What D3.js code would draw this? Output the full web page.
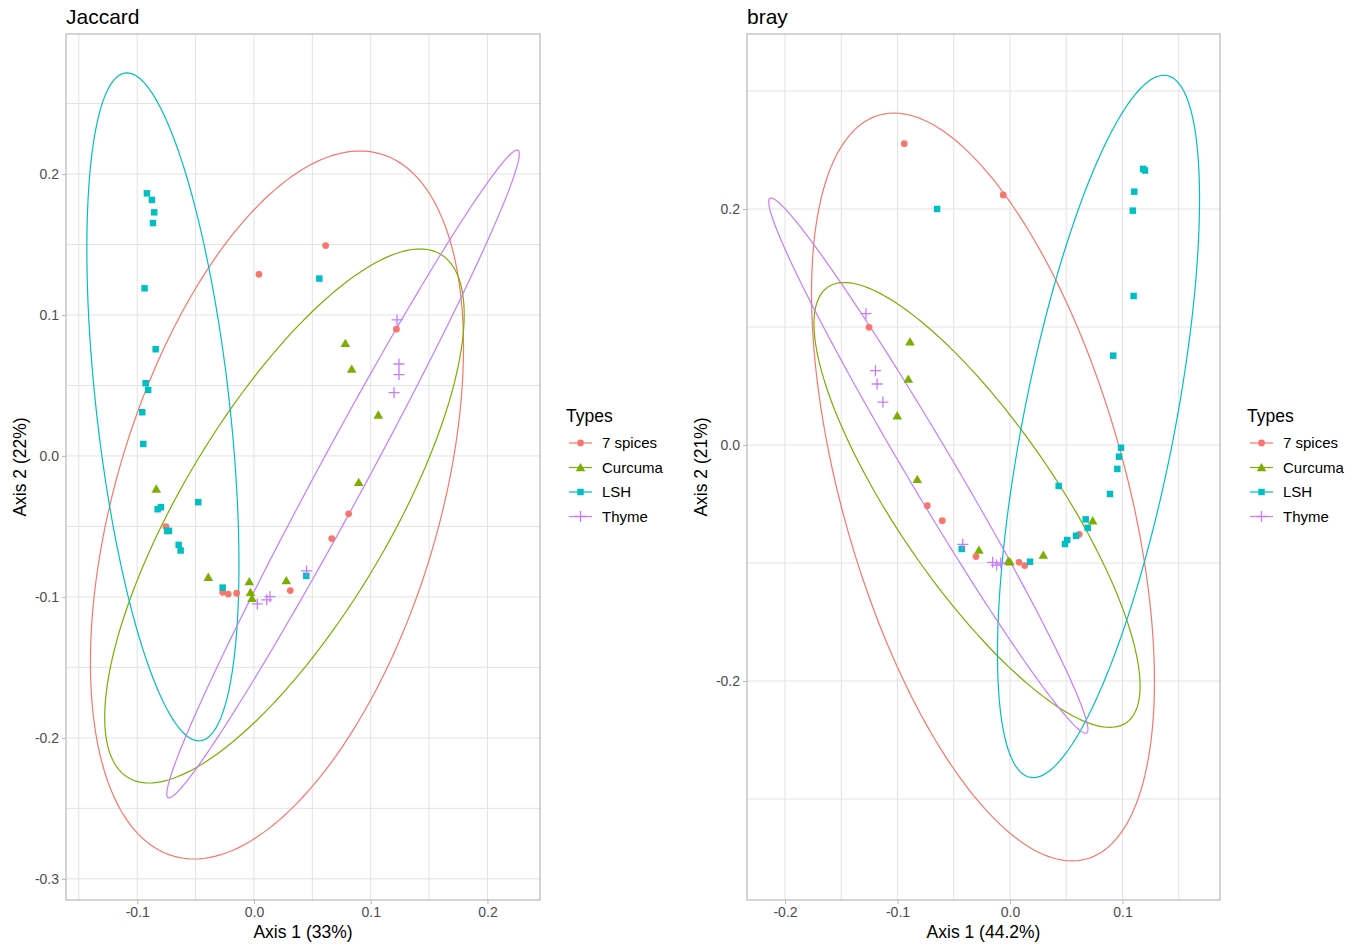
<!DOCTYPE html>
<html>
<head>
<meta charset="utf-8">
<script src="https://cdn.jsdelivr.net/npm/d3@7"></script>
<style>
  body { margin: 0; background: #fff; }
  text { font-family: "Liberation Sans", Arial, sans-serif; }
</style>
</head>
<body>
<svg width="1363" height="945"></svg>
<script>
var types = ["7 spices", "Curcuma", "LSH", "Thyme"];
var colors = ["#F8766D", "#7CAE00", "#00BFC4", "#C77CFF"];

// Jaccard PCoA scores
var jacSpices = [[0.0043, 0.1288], [0.0614, 0.1492], [0.122, 0.0899], [0.0811, -0.0411], [0.0666, -0.0586],
  [0.0311, -0.0955], [-0.022, -0.098], [-0.0268, -0.0967], [-0.0754, -0.0501], [-0.0148, -0.0974]];
var jacCurcuma = [[0.0783, 0.0799], [0.0837, 0.0617], [0.1065, 0.0291], [0.0897, -0.0187], [0.0277, -0.0884],
  [-0.004, -0.0891], [-0.003, -0.0967], [-0.0017, -0.101], [-0.0837, -0.0234], [-0.0391, -0.086]];
var jacLSH = [[-0.0917, 0.1863], [-0.0874, 0.1816], [-0.0854, 0.1728], [-0.0865, 0.1652], [-0.0937, 0.1189],
  [0.056, 0.1258], [-0.0842, 0.0757], [-0.0928, 0.0516], [-0.0906, 0.0468], [-0.0957, 0.031], [-0.0948, 0.0085],
  [-0.0477, -0.0328], [-0.0825, -0.0378], [-0.0797, -0.0364], [-0.0743, -0.0532], [-0.0728, -0.0532],
  [-0.0645, -0.0631], [-0.0628, -0.0671], [-0.0268, -0.0934], [0.0448, -0.0851]];
var jacThyme = [[0.1225, 0.0965], [0.1242, 0.0652], [0.1242, 0.0577], [0.12, 0.0449], [0.0451, -0.0816],
  [0.0029, -0.105], [0.0109, -0.1021], [0.0137, -0.0998]];

// Bray-Curtis PCoA scores
var braySpices = [[-0.094, 0.2553], [-0.006, 0.2119], [-0.1253, 0.0997], [-0.0735, -0.0514], [-0.0602, -0.0641],
  [-0.0302, -0.0946], [0.008, -0.0994], [0.0131, -0.1022], [0.0616, -0.0757]];
var brayCurcuma = [[-0.0889, 0.0876], [-0.0904, 0.0559], [-0.1002, 0.0249], [-0.0824, -0.0291], [-0.0276, -0.089],
  [-0.0015, -0.0983], [0, -0.0989], [0.0296, -0.0932], [0.0735, -0.0641]];
var brayLSH = [[-0.0648, 0.2], [0.1184, 0.234], [0.12, 0.2326], [0.1105, 0.2147], [0.1092, 0.1986], [0.1099, 0.1263],
  [0.0918, 0.0757], [0.0987, -0.0023], [0.0969, -0.0099], [0.0954, -0.0203], [0.0889, -0.0415], [0.0433, -0.0347],
  [0.0673, -0.063], [0.0691, -0.0703], [0.0587, -0.0769], [0.0509, -0.0805], [0.0489, -0.0839], [0.0178, -0.0989],
  [-0.0429, -0.0881]];
var brayThyme = [[-0.128, 0.1113], [-0.1196, 0.063], [-0.1181, 0.0517], [-0.113, 0.0364], [-0.042, -0.0842],
  [-0.0154, -0.0994], [-0.0119, -0.1017], [-0.0082, -0.1]];

// ellipses: centre, then two conjugate semi-axes (data units), one per type
var jacEllipses = [[0.0197, -0.0348, 0.0711, 0.2511, 0.1431, 0],
  [0.0261, -0.0426, 0.1161, 0.1894, 0.1011, 0],
  [-0.078, 0.0348, -0.0308, 0.2369, 0.0574, 0],
  [0.0763, -0.0128, 0.1491, 0.2298, 0.0237, 0]];
var brayEllipses = [[-0.024, -0.0356, -0.0791, 0.3169, 0.1303, 0],
  [-0.0293, -0.0508, -0.118, 0.1885, 0.0842, 0],
  [0.0787, 0.0157, 0.0581, 0.2976, 0.0685, 0],
  [-0.0726, -0.0175, -0.1398, 0.2268, 0.0243, 0]];

var jacXTicks = [-0.1, 0, 0.1, 0.2], jacYTicks = [-0.3, -0.2, -0.1, 0, 0.1, 0.2];
var brayXTicks = [-0.2, -0.1, 0, 0.1], brayYTicks = [-0.2, 0, 0.2];

var svg = d3.select("svg");
svg.append("rect").attr("width", 1363).attr("height", 945).attr("fill", "#fff");

var symbols = [d3.symbolCircle, d3.symbolTriangle, d3.symbolSquare, null];
var symSizes = [36, 40, 42, 0];

function drawShape(g, i, px, py) {
  if (i === 3) {
    g.append("path")
      .attr("d", "M" + (px - 5.5) + "," + py + "H" + (px + 5.5) + "M" + px + "," + (py - 5.5) + "V" + (py + 5.5))
      .attr("stroke", colors[i]).attr("stroke-width", 1.3).attr("fill", "none");
  } else {
    g.append("path")
      .attr("d", d3.symbol().type(symbols[i]).size(symSizes[i])())
      .attr("transform", "translate(" + px + "," + (py + (i === 1 ? 1 : 0)) + ")")
      .attr("fill", colors[i]);
  }
}

function panel(opt) {
  var x = d3.scaleLinear().domain(opt.xdom).range([opt.left, opt.right]),
      y = d3.scaleLinear().domain(opt.ydom).range([opt.bottom, opt.top]);
  var g = svg.append("g");

  // minor grid
  var xMinor = d3.range(Math.ceil(opt.xdom[0] / 0.05), Math.floor(opt.xdom[1] / 0.05) + 1).map(function(k) { return k * 0.05; });
  var yStep = opt.yStep;
  var yMinor = d3.range(Math.ceil(opt.ydom[0] / (yStep / 2)), Math.floor(opt.ydom[1] / (yStep / 2)) + 1).map(function(k) { return k * yStep / 2; });
  g.selectAll(".gx").data(xMinor).enter().append("line")
    .attr("x1", function(d) { return x(d); }).attr("x2", function(d) { return x(d); })
    .attr("y1", opt.top).attr("y2", opt.bottom)
    .attr("stroke", "#e3e3e3").attr("stroke-width", 1);
  g.selectAll(".gy").data(yMinor).enter().append("line")
    .attr("y1", function(d) { return y(d); }).attr("y2", function(d) { return y(d); })
    .attr("x1", opt.left).attr("x2", opt.right)
    .attr("stroke", "#e3e3e3").attr("stroke-width", 1);

  // panel border
  g.append("rect").attr("x", opt.left).attr("y", opt.top)
    .attr("width", opt.right - opt.left).attr("height", opt.bottom - opt.top)
    .attr("fill", "none").attr("stroke", "#b8b8b8").attr("stroke-width", 1.2);

  // axes
  var fmt = function(d) { return d.toFixed(1); };
  var ax = g.append("g").attr("transform", "translate(0," + opt.bottom + ")")
    .call(d3.axisBottom(x).tickValues(opt.xticks).tickSize(4).tickPadding(3).tickFormat(fmt));
  var ay = g.append("g").attr("transform", "translate(" + opt.left + ",0)")
    .call(d3.axisLeft(y).tickValues(opt.yticks).tickSize(4).tickPadding(3).tickFormat(fmt));
  [ax, ay].forEach(function(a) {
    a.select(".domain").remove();
    a.selectAll(".tick line").attr("stroke", "#b8b8b8");
    a.selectAll(".tick text").attr("fill", "#4d4d4d").style("font-size", "14px");
  });

  // ellipses
  var line = d3.line().x(function(d) { return x(d[0]); }).y(function(d) { return y(d[1]); });
  var ts = d3.range(0, 201).map(function(k) { return k / 200 * 2 * Math.PI; });
  g.selectAll(".ell").data(opt.ellipses).enter().append("path")
    .attr("d", function(e) {
      return line(ts.map(function(t) {
        return [e[0] + e[2] * Math.cos(t) + e[4] * Math.sin(t), e[1] + e[3] * Math.cos(t) + e[5] * Math.sin(t)];
      }));
    })
    .attr("fill", "none")
    .attr("stroke", function(e, i) { return colors[i]; })
    .attr("stroke-width", 1.2);

  // points
  opt.points.forEach(function(pts, i) {
    pts.forEach(function(p) { drawShape(g, i, x(p[0]), y(p[1])); });
  });

  // titles
  g.append("text").attr("x", opt.left).attr("y", 24).text(opt.title)
    .style("font-size", "21px").attr("fill", "#000");
  g.append("text").attr("x", (opt.left + opt.right) / 2).attr("y", 938)
    .attr("text-anchor", "middle").style("font-size", "17.5px").text(opt.xlab);
  g.append("text").attr("transform", "translate(" + opt.ylabX + "," + ((opt.top + opt.bottom) / 2) + ") rotate(-90)")
    .attr("text-anchor", "middle").style("font-size", "17.5px").text(opt.ylab);

  // legend
  var lg = g.append("g").attr("transform", "translate(" + opt.legX + ",0)");
  lg.append("text").attr("x", 0).attr("y", 422).style("font-size", "17.5px").text("Types");
  types.forEach(function(t, i) {
    var ky = 443 + i * 24.5;
    lg.append("line").attr("x1", 3).attr("x2", 26).attr("y1", ky).attr("y2", ky)
      .attr("stroke", colors[i]).attr("stroke-width", 1.2);
    drawShape(lg, i, 14.5, ky);
    lg.append("text").attr("x", 36).attr("y", ky + 5).style("font-size", "15px").text(t);
  });
}

panel({
  title: "Jaccard", xlab: "Axis 1 (33%)", ylab: "Axis 2 (22%)",
  left: 66, right: 540, top: 34, bottom: 900, ylabX: 26, legX: 566,
  xdom: [-0.161, 0.245], ydom: [-0.315, 0.2993], yStep: 0.1,
  xticks: jacXTicks, yticks: jacYTicks, ellipses: jacEllipses,
  points: [jacSpices, jacCurcuma, jacLSH, jacThyme]
});

panel({
  title: "bray", xlab: "Axis 1 (44.2%)", ylab: "Axis 2 (21%)",
  left: 747, right: 1220, top: 34, bottom: 900, ylabX: 707, legX: 1247,
  xdom: [-0.2338, 0.1867], ydom: [-0.3856, 0.3483], yStep: 0.2,
  xticks: brayXTicks, yticks: brayYTicks, ellipses: brayEllipses,
  points: [braySpices, brayCurcuma, brayLSH, brayThyme]
});
</script>
</body>
</html>
